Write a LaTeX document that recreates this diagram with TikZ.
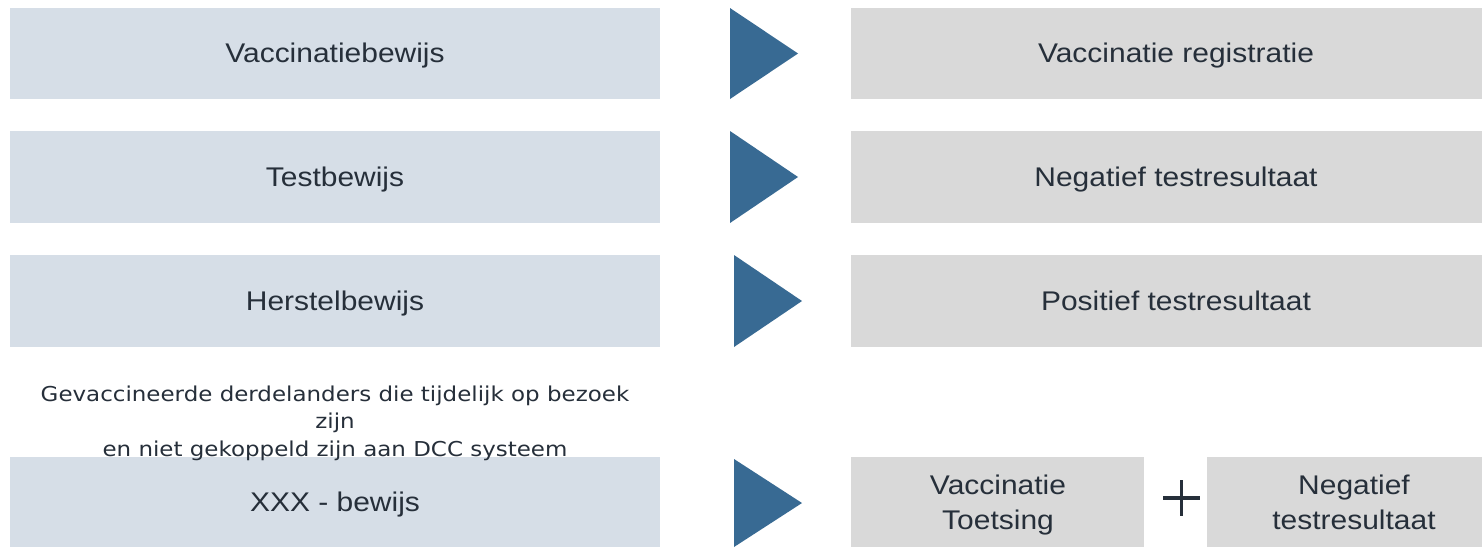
\documentclass[tikz,border=0pt]{standalone}
\usepackage{fontspec}
\setmainfont{Liberation Sans}
\newfontfamily\boxfont[FakeStretch=1.11]{Liberation Sans}
\newfontfamily\notefont[FakeStretch=1.12]{DejaVu Sans}
\definecolor{leftfill}{RGB}{214,222,231}
\definecolor{rightfill}{RGB}{217,217,217}
\definecolor{arrowblue}{RGB}{56,106,147}
\definecolor{textdark}{RGB}{38,47,58}
\begin{document}
\begin{tikzpicture}[x=1pt,y=-1pt,
  leftbox/.style={fill=leftfill,draw=none},
  rightbox/.style={fill=rightfill,draw=none},
  boxtext/.style={text=textdark,font=\boxfont\fontsize{27}{35}\selectfont,inner sep=0pt,anchor=base},
  tri/.style={fill=arrowblue,draw=none}]
\useasboundingbox (0,0) rectangle (1482,547);
\fill[white] (0,0) rectangle (1482,547);
% left boxes
\path[leftbox] (10,8) rectangle (660,99);
\path[leftbox] (10,131) rectangle (660,223);
\path[leftbox] (10,255) rectangle (660,347);
\path[leftbox] (10,457) rectangle (660,547);
% right boxes
\path[rightbox] (851,8) rectangle (1482,99);
\path[rightbox] (851,131) rectangle (1482,223);
\path[rightbox] (851,255) rectangle (1482,347);
\path[rightbox] (851,457) rectangle (1144,547);
\path[rightbox] (1207,457) rectangle (1482,547);
% triangles
\path[tri] (730,8) -- (798,53.5) -- (730,99) -- cycle;
\path[tri] (730,131) -- (798,177) -- (730,223) -- cycle;
\path[tri] (734,255) -- (802,301) -- (734,347) -- cycle;
\path[tri] (734,459) -- (802,503) -- (734,547) -- cycle;
% texts
\node[boxtext] (t1) at (335,62) {Vaccinatiebewijs};
\node[boxtext] (t2) at (335,186) {Testbewijs};
\node[boxtext] (t3) at (335,310) {Herstelbewijs};
\node[boxtext] (t4) at (335,511) {XXX - bewijs};
\node[boxtext] (r1) at (1176,62) {Vaccinatie registratie};
\node[boxtext] (r2) at (1176,186) {Negatief testresultaat};
\node[boxtext] (r3) at (1176,310) {Positief testresultaat};
\node[boxtext] (r4a) at (998,494) {\begin{tabular}[t]{@{}c@{}}Vaccinatie\\Toetsing\end{tabular}};
\node[boxtext] (r4b) at (1354,494) {\begin{tabular}[t]{@{}c@{}}Negatief\\testresultaat\end{tabular}};
% plus
\draw[textdark,line width=3.2pt] (1163,498) -- (1200,498);
\draw[textdark,line width=3.2pt] (1181.5,480) -- (1181.5,516);
% note
\node[text=textdark,font=\notefont\fontsize{20.5}{27.5}\selectfont,inner sep=0pt,anchor=base] (note) at (335,401)
  {\begin{tabular}[t]{@{}c@{}}Gevaccineerde derdelanders die tijdelijk op bezoek\\zijn\\en niet gekoppeld zijn aan DCC systeem\end{tabular}};
\end{tikzpicture}
\end{document}
